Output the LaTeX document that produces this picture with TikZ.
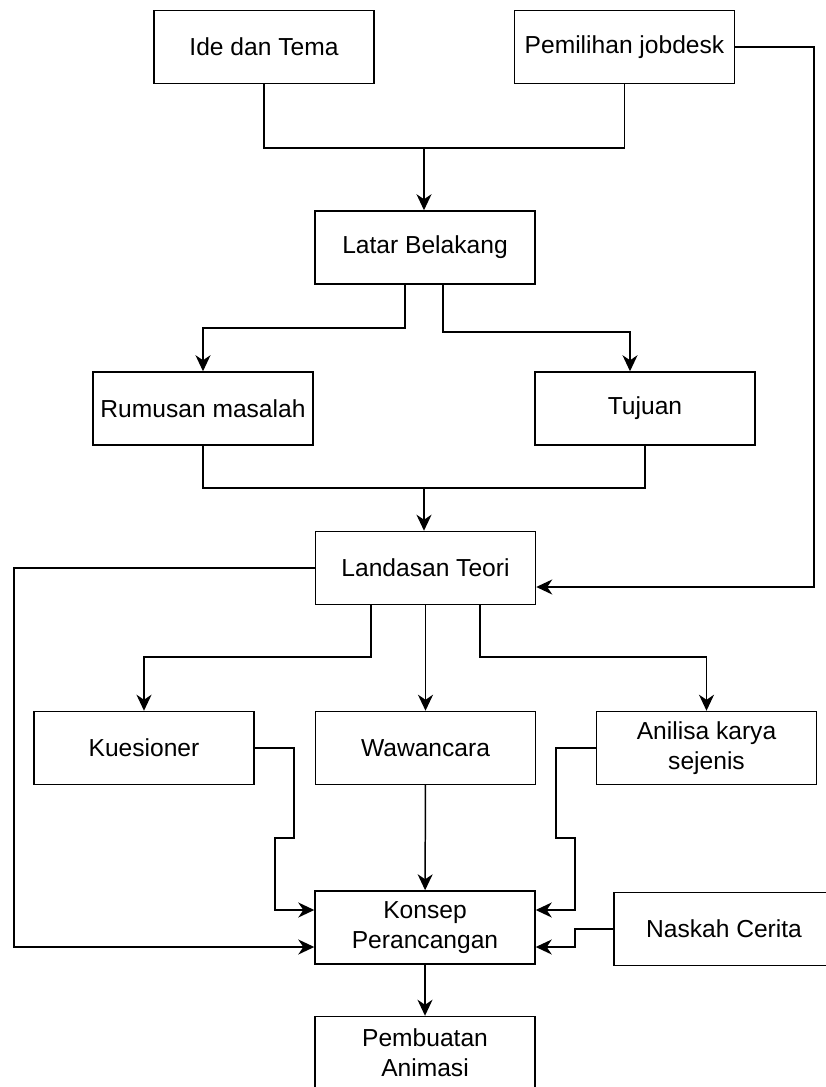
\documentclass[tikz,border=0pt]{standalone}
\usepackage{fontspec}
\setmainfont{Liberation Sans}
\usetikzlibrary{arrows.meta}

\begin{document}
\begin{tikzpicture}[x=0.02cm, y=-0.02cm, line width=0.85pt,
  box/.style={draw, minimum width=4.4cm, minimum height=1.46cm, inner sep=1pt,
    align=center, font=\fontsize{14}{17}\selectfont},
  arr/.style={-{Stealth[length=0.32cm, width=0.3cm, inset=0.1cm]}}]
\useasboundingbox (0,0) rectangle (825,1087);
\node[box] (ide) at (264,47) {Ide dan Tema};
\node[box] (job) at (624.5,47) {Pemilihan jobdesk};
\node[box] (latar) at (425,247.5) {Latar Belakang};
\node[box] (rumusan) at (203,408.5) {Rumusan masalah};
\node[box] (tujuan) at (645,408.5) {Tujuan};
\node[box] (landasan) at (425.5,568) {Landasan Teori};
\node[box] (kues) at (144,748) {Kuesioner};
\node[box] (wawan) at (425.5,748) {Wawancara};
\node[box] (anilisa) at (706.5,748) {Anilisa karya\\sejenis};
\node[box] (konsep) at (425,927.5) {Konsep\\Perancangan};
\node[box] (naskah) at (724,929) {Naskah Cerita};
\node[box] (buat) at (425,1053) {Pembuatan\\Animasi};
\coordinate (m1) at (424,148);
\coordinate (m2) at (424,488);
\coordinate (r1) at (814,587);
\coordinate (l1) at (14,947);
% atas
\draw (ide.south) |- (m1) -| (job.south);
\draw[arr] (m1) -- (m1 |- latar.north);
\draw[arr] (latar.south -| 405,0) -- (405,328) -| (rumusan.north);
\draw[arr] (latar.south -| 443,0) -- (443,332) -| (tujuan.north -| 630,0);
\draw (rumusan.south) |- (m2) -| (tujuan.south);
\draw[arr] (m2) -- (m2 |- landasan.north);
\draw[arr] (job.east) -| (r1) -- (r1 -| landasan.east);
\draw[arr] (landasan.west) -| (l1) -- (l1 -| konsep.west);
% tengah
\draw[arr] (landasan.south -| 371,0) -- (371,657) -| (kues.north);
\draw[arr] (landasan) -- (wawan);
\draw[arr] (landasan.south -| 480,0) -- (480,657) -| (anilisa.north);
% bawah
\draw[arr] (kues.east) -| (294,838) -| (275,910) -- (konsep.west |- 275,910);
\draw[arr] (anilisa.west) -| (556,838) -| (575,910) -- (konsep.east |- 575,910);
\draw[arr] (naskah.west) -| (575,947) -- (konsep.east |- 575,947);
\draw[arr] (wawan) -- (konsep);
\draw[arr] (konsep) -- (buat);
\end{tikzpicture}
\end{document}
